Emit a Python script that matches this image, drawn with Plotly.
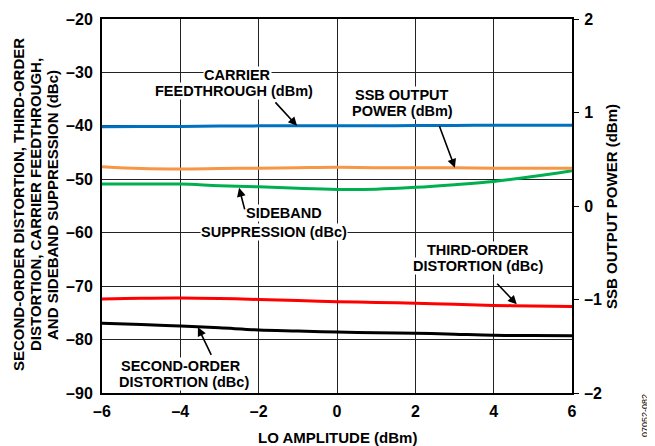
import plotly.graph_objects as go

# ---- data ----
lo_amp = [-6, -5, -4, -3, -2, -1, 0, 1, 2, 3, 4, 5, 6]
carrier_feedthrough = [-40.15, -40.12, -40.1, -40.05, -40.0, -40.0, -40.0, -39.98, -39.95, -39.92, -39.9, -39.9, -39.9]
ssb_output_power = [0.42, 0.40, 0.395, 0.40, 0.405, 0.41, 0.414, 0.41, 0.41, 0.41, 0.405, 0.405, 0.403]
sideband_suppression = [-50.9, -50.9, -50.9, -51.2, -51.4, -51.7, -51.9, -51.85, -51.5, -51.0, -50.4, -49.5, -48.4]
third_order = [-72.4, -72.25, -72.2, -72.3, -72.5, -72.7, -72.9, -73.05, -73.2, -73.4, -73.6, -73.7, -73.8]
second_order = [-76.95, -77.2, -77.45, -77.8, -78.2, -78.4, -78.6, -78.7, -78.8, -79.0, -79.2, -79.25, -79.3]

x_ticks = [-6, -4, -2, 0, 2, 4, 6]
x_ticktext = ["–6", "–4", "–2", "0", "2", "4", "6"]
y_ticks = [-90, -80, -70, -60, -50, -40, -30, -20]
y_ticktext = ["–90", "–80", "–70", "–60", "–50", "–40", "–30", "–20"]
y2_ticks = [-2, -1, 0, 1, 2]
y2_ticktext = ["–2", "–1", "0", "1", "2"]

FONT = "Liberation Sans, Arial, sans-serif"
BLUE = "#0070C0"
ORANGE = "#F79646"
GREEN = "#00B050"
RED = "#FF0000"
BLACK = "#000000"

def bold(lst):
    return ["<b>%s</b>" % t for t in lst]

fig = go.Figure()
fig.add_trace(go.Scatter(x=lo_amp, y=carrier_feedthrough, mode="lines", line=dict(color=BLUE, width=3, shape="spline")))
fig.add_trace(go.Scatter(x=lo_amp, y=sideband_suppression, mode="lines", line=dict(color=GREEN, width=3, shape="spline")))
fig.add_trace(go.Scatter(x=lo_amp, y=third_order, mode="lines", line=dict(color=RED, width=3, shape="spline")))
fig.add_trace(go.Scatter(x=lo_amp, y=second_order, mode="lines", line=dict(color=BLACK, width=3, shape="spline")))
fig.add_trace(go.Scatter(x=lo_amp, y=ssb_output_power, mode="lines", yaxis="y2",
                         line=dict(color=ORANGE, width=3, shape="spline")))

tickfont = dict(family=FONT, size=16, color="black")
fig.update_layout(
    width=647, height=438,
    margin=dict(l=94, r=83, t=11, b=53, autoexpand=False),
    paper_bgcolor="white", plot_bgcolor="white",
    showlegend=False,
    font=dict(family=FONT, color="black"),
    xaxis=dict(range=[-6, 6], tickvals=x_ticks, ticktext=bold(x_ticktext), tickfont=tickfont,
               showgrid=True, gridcolor="#222222", gridwidth=1, zeroline=False, automargin=False,
               showline=True, linecolor="black", linewidth=2, mirror=True, ticks="",
               ticklabelstandoff=3),
    yaxis=dict(range=[-90, -20], tickvals=y_ticks, ticktext=bold(y_ticktext), tickfont=tickfont,
               showgrid=True, gridcolor="#222222", gridwidth=1, zeroline=False, automargin=False,
               showline=True, linecolor="black", linewidth=2, mirror=True, ticks="",
               ticklabelstandoff=4),
    yaxis2=dict(range=[-2, 2], tickvals=y2_ticks, ticktext=bold(y2_ticktext), tickfont=tickfont,
                overlaying="y", side="right", showgrid=False, zeroline=False, automargin=False,
                showline=False, ticks="outside", ticklen=6, tickwidth=1, tickcolor="black",
                ticklabelstandoff=2),
)

lab = dict(family=FONT, size=14.5, color="black")

def text(x, y, s, yref="y"):
    fig.add_annotation(x=x, y=y, xref="x", yref=yref, text="<b>%s</b>" % s, showarrow=False,
                       font=lab, bgcolor="white", borderpad=0, xanchor="center", yanchor="middle")

def arrow(x, y, ax, ay, yref="y"):
    fig.add_annotation(x=x, y=y, xref="x", yref=yref, text="", showarrow=True, ax=ax, ay=ay,
                       arrowhead=2, arrowsize=1.1, arrowwidth=1.6, arrowcolor="black", standoff=0)

# labels (each line separately for tight leading)
text(-2.55, -30.5, "CARRIER")
text(-2.62, -33.5, "FEEDTHROUGH (dBm)")
text(1.66, -34.3, "SSB OUTPUT")
text(1.66, -37.3, "POWER (dBm)")
text(-1.35, -56.3, "SIDEBAND")
text(-1.6, -59.8, "SUPPRESSION (dBc)")
text(3.6, -63.2, "THIRD-ORDER")
text(3.6, -66.3, "DISTORTION (dBc)")
text(-3.98, -84.9, "SECOND-ORDER")
text(-3.9, -87.9, "DISTORTION (dBc)")

arrow(-1.02, -40.0, -23, -25)
arrow(3.01, 0.41, -16, -43, yref="y2")
arrow(-2.5, -51.6, 6, 23)
arrow(4.59, -73.4, -21, -22)
arrow(-3.55, -77.7, 14, 29)

# axis titles (positions given in reference-window pixels)
def ptx(px):
    return (px - 102) / 470.0

def pty(py):
    return 1 - (py - 19) / 374.0

titlefont = dict(family=FONT, size=15, color="black")
left_lines = ["SECOND-ORDER DISTORTION, THIRD-ORDER",
              "DISTORTION, CARRIER FEEDTHROUGH,",
              "AND SIDEBAND SUPPRESSION (dBc)"]
for i, s in enumerate(left_lines):
    fig.add_annotation(x=ptx(18 + 17 * i), y=pty(205), xref="paper", yref="paper",
                       text="<b>%s</b>" % s, showarrow=False, textangle=-90, font=titlefont,
                       xanchor="center", yanchor="middle")
fig.add_annotation(x=ptx(611), y=pty(207), xref="paper", yref="paper",
                   text="<b>SSB OUTPUT POWER (dBm)</b>", showarrow=False, textangle=-90,
                   font=titlefont, xanchor="center", yanchor="middle")
fig.add_annotation(x=ptx(337), y=pty(437), xref="paper", yref="paper",
                   text="<b>LO AMPLITUDE (dBm)</b>", showarrow=False,
                   font=titlefont, xanchor="center", yanchor="middle")
fig.add_annotation(x=ptx(645), y=pty(416), xref="paper", yref="paper",
                   text="07052-082", showarrow=False, textangle=-90,
                   font=dict(family=FONT, size=9, color="black"), xanchor="center", yanchor="middle")

fig.write_html("out.html")
